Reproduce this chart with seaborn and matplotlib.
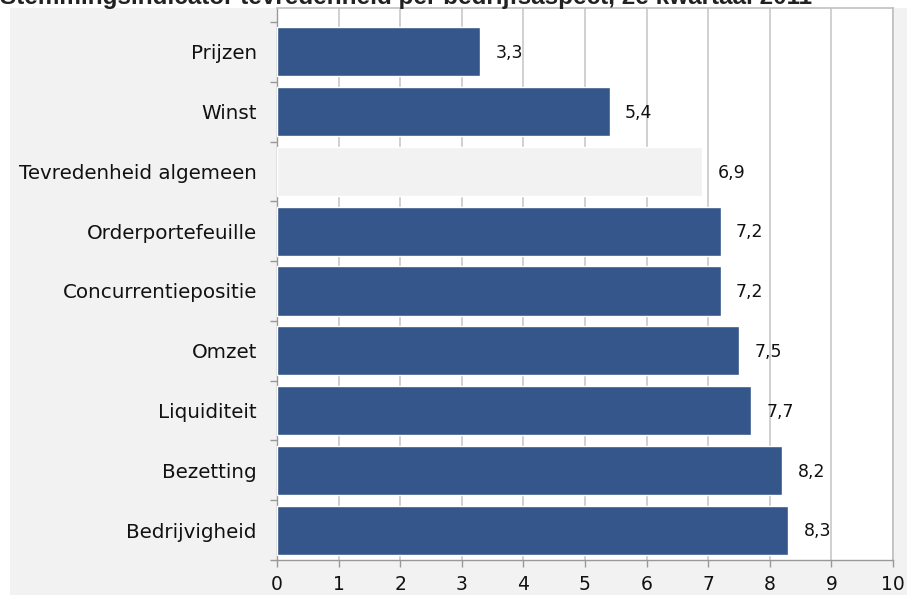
import matplotlib
matplotlib.use("Agg")
import matplotlib.pyplot as plt
import matplotlib.patches as mpatches
import seaborn as sns
import pandas as pd

categories = ["Prijzen", "Winst", "Tevredenheid algemeen", "Orderportefeuille",
              "Concurrentiepositie", "Omzet", "Liquiditeit", "Bezetting", "Bedrijvigheid"]
values = [3.3, 5.4, 6.9, 7.2, 7.2, 7.5, 7.7, 8.2, 8.3]
value_labels = ["3,3", "5,4", "6,9", "7,2", "7,2", "7,5", "7,7", "8,2", "8,3"]
x_ticks = list(range(0, 11))

sns.set_theme(style="white")
plt.rcParams['font.family'] = ['DejaVu Sans']

W, H = 907, 595
bg = "#f2f2f2"
blue = "#34568a"
palette = [bg if c == "Tevredenheid algemeen" else blue for c in categories]

df = pd.DataFrame({"cat": categories, "val": values})

fig = plt.figure(figsize=(W / 100, H / 100), dpi=100, facecolor="white")
fig.patches.append(mpatches.Rectangle((10 / W, 0), 1 - 10 / W, 1 - 8 / H,
                                      transform=fig.transFigure, facecolor=bg,
                                      edgecolor="none", zorder=-10))

left, right, top, bottom = 277, 893, 8, 560
ax = fig.add_axes([left / W, 1 - bottom / H, (right - left) / W, (bottom - top) / H])
ax.set_facecolor("white")

sns.barplot(data=df, x="val", y="cat", hue="cat", palette=palette, legend=False,
            width=0.82, ax=ax, zorder=3, saturation=1)

step = (bottom - top - 14) / len(categories)
ax.set_ylim(len(categories) - 0.5, -0.5 - 14 / step)

ax.set_xlim(0, 10)
ax.set_xticks(x_ticks)
ax.set_xticklabels([str(t) for t in x_ticks], fontsize=13.5,
                   family=["Liberation Sans Narrow", "DejaVu Sans"])
ax.grid(axis="x", color="#c8c8c8", linewidth=1.2, zorder=0)
ax.set_axisbelow(True)
ax.set_xlabel("")
ax.set_ylabel("")
ax.tick_params(axis="y", labelsize=14.3, length=0, pad=14.5, labelcolor="#111111")
ax.tick_params(axis="x", length=5, width=1, color="#999999", pad=6, direction="out",
               bottom=True, labelcolor="#111111")

ax.set_yticks([i + 0.5 for i in range(-1, len(categories))], minor=True)
ax.tick_params(axis="y", which="minor", length=5, width=1, color="#999999", left=True)

for s in ["top", "right"]:
    ax.spines[s].set_color("#c0c0c0")
    ax.spines[s].set_linewidth(1.2)
for s in ["left", "bottom"]:
    ax.spines[s].set_color("#999999")
    ax.spines[s].set_linewidth(1.0)

for i, (v, lab) in enumerate(zip(values, value_labels)):
    ax.text(v + 0.25, i + 0.02, lab, va="center", ha="left", fontsize=12.5,
            color="#111111", zorder=4)

fig.text(0.0, 1 - 4 / H, "Stemmingsindicator tevredenheid per bedrijfsaspect, 2e kwartaal 2011",
         fontsize=17.5, fontweight="bold", family="Liberation Sans", color="#222222",
         ha="left", va="baseline")

fig.savefig("out.png", dpi=100, facecolor="white")
